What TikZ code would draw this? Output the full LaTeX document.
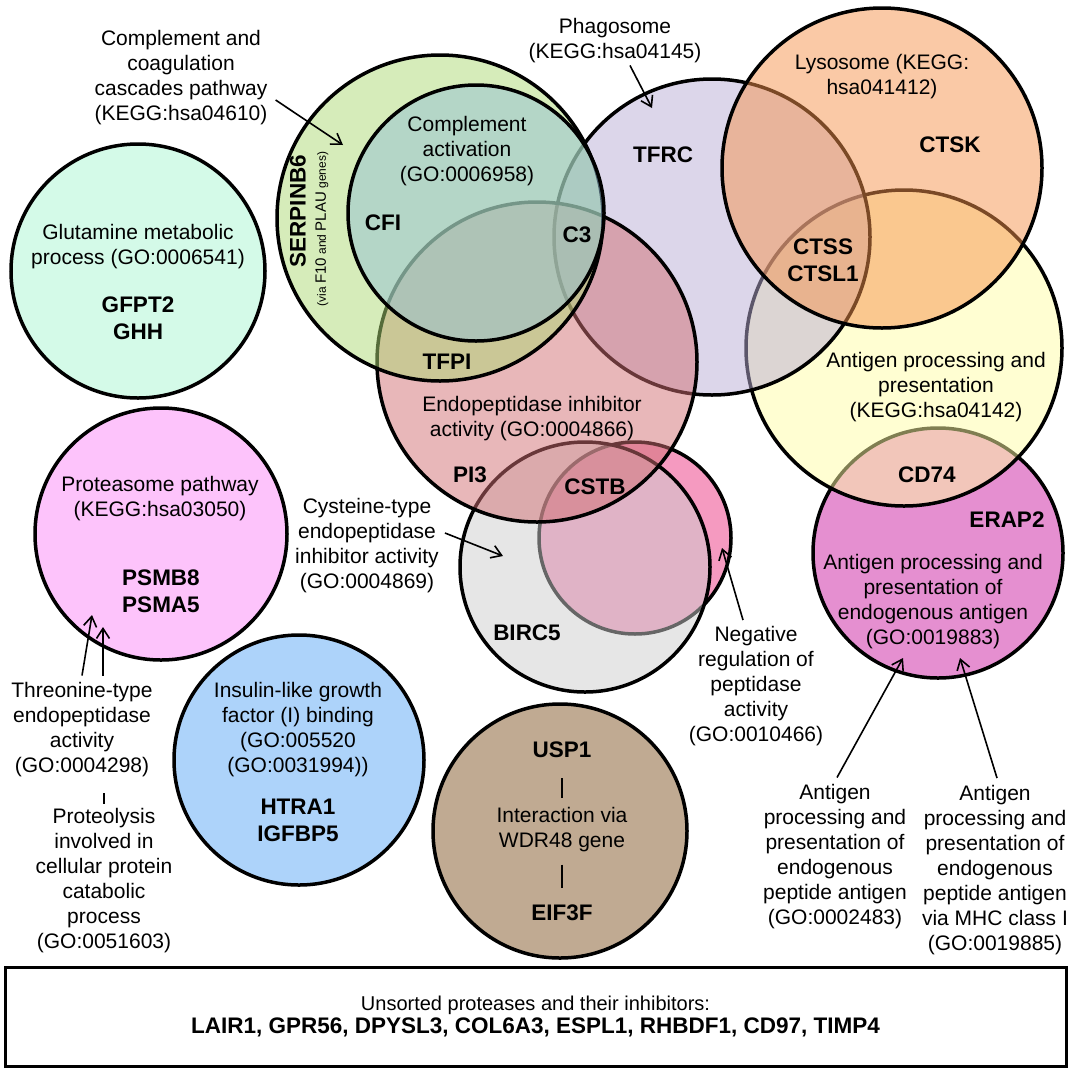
\documentclass[tikz,border=0pt]{standalone}
\usepackage{fontspec}
\setmainfont{Liberation Sans}
\usetikzlibrary{arrows.meta}

\definecolor{mint}{RGB}{212,250,232}
\definecolor{orchid}{RGB}{253,195,251}
\definecolor{sky}{RGB}{173,211,250}
\definecolor{taupe}{RGB}{192,170,146}
\definecolor{magenta}{RGB}{229,143,208}
\definecolor{butter}{RGB}{255,253,165}
\definecolor{lilac}{RGB}{185,173,213}
\definecolor{peach}{RGB}{245,147,77}
\definecolor{rose}{RGB}{245,154,192}
\definecolor{ash}{RGB}{205,205,205}
\definecolor{brick}{RGB}{209,111,115}
\definecolor{lime}{RGB}{173,217,117}
\definecolor{teal}{RGB}{148,192,214}

\tikzset{
  lbl/.style={font=\fontsize{21}{25}\selectfont, align=center, inner sep=0pt},
  gene/.style={font=\fontsize{22.5}{27}\selectfont\bfseries, align=center, inner sep=0pt},
  ring/.style={line width=3.5pt},
  seethru/.style={ring, fill opacity=0.5},
  pointer/.style={-{Straight Barb[length=10pt,width=13pt]}, line width=1.6pt},
  tie/.style={line width=1.8pt},
}

\begin{document}
\begin{tikzpicture}[x=1pt,y=-1pt]
\useasboundingbox (0,0) rectangle (1071,1069);

% Stand-alone sets
\draw[ring, fill=mint] (138,271) circle[radius=127pt]; % Glutamine metabolic process
\draw[ring, fill=orchid] (161,534) circle[radius=126pt]; % Proteasome pathway
\draw[ring, fill=sky] (299,760) circle[radius=125pt]; % Insulin-like growth factor binding
\draw[ring, fill=taupe] (560,831) circle[radius=127pt]; % WDR48 interaction

% Overlapping sets, back to front
\draw[ring, fill=magenta] (938,553) circle[radius=125pt]; % Endogenous antigen
\draw[seethru, fill=butter] (904,348) circle[radius=158pt]; % Antigen processing
\draw[seethru, fill=lilac] (712,237) circle[radius=158pt]; % Phagosome
\draw[seethru, fill=peach] (882,168) circle[radius=160pt]; % Lysosome
\draw[ring, fill=rose] (635,538) circle[radius=96pt]; % Negative regulation
\draw[seethru, fill=ash] (585,567) circle[radius=125pt]; % Cysteine-type inhibitor
\draw[seethru, fill=brick] (537,362) circle[radius=160pt]; % Endopeptidase inhibitor
\draw[seethru, fill=lime] (440,218) circle[radius=163pt]; % Complement and coagulation
\draw[seethru, fill=teal] (476,213) circle[radius=128pt]; % Complement activation

% Set labels
\node[lbl] (coag) at (181,78) {Complement and\\coagulation\\cascades pathway\\(KEGG:hsa04610)};
\node[lbl] (phago) at (615,41) {Phagosome\\(KEGG:hsa04145)};
\node[lbl] (lyso) at (882,77) {Lysosome (KEGG:\\hsa041412)};
\node[lbl] (compl) at (467,151) {Complement\\activation\\(GO:0006958)};
\node[lbl] (glut) at (138,247) {Glutamine metabolic\\process (GO:0006541)};
\node[lbl] (endo) at (532,419) {Endopeptidase inhibitor\\activity (GO:0004866)};
\node[lbl] (prot) at (160,499) {Proteasome pathway\\(KEGG:hsa03050)};
\node[lbl] (cyst) at (367,546) {Cysteine-type\\endopeptidase\\inhibitor activity\\(GO:0004869)};
\node[lbl] (antig) at (936,387) {Antigen processing and\\presentation\\(KEGG:hsa04142)};
\node[lbl] (endoant) at (933,602) {Antigen processing and\\presentation of\\endogenous antigen\\(GO:0019883)};
\node[lbl] (negreg) at (756,686) {Negative\\regulation of\\peptidase\\activity\\(GO:0010466)};
\node[lbl] (thr) at (82,730) {Threonine-type\\endopeptidase\\activity\\(GO:0004298)};
\node[lbl] (proteo) at (104,881) {Proteolysis\\involved in\\cellular protein\\catabolic\\process\\(GO:0051603)};
\node[lbl] (ins) at (298,730) {Insulin-like growth\\factor (I) binding\\(GO:005520\\(GO:0031994))};
\node[lbl] (wdr) at (562,830) {Interaction via\\WDR48 gene};
\node[lbl] (peptl) at (835,857) {Antigen\\processing and\\presentation of\\endogenous\\peptide antigen\\(GO:0002483)};
\node[lbl] (peptr) at (995,870) {Antigen\\processing and\\presentation of\\endogenous\\peptide antigen\\via MHC class I\\(GO:0019885)};

% Genes
\node[gene, rotate=90] (serpin) at (298,211) {SERPINB6};
\node[rotate=90, inner sep=0pt] (via) at (322,229) {\fontsize{12}{12}\selectfont (via \fontsize{15}{15}\selectfont F10\fontsize{12}{12}\selectfont{} and \fontsize{15}{15}\selectfont PLAU\fontsize{12}{12}\selectfont{} genes)};
\node[gene] (ctsk) at (950,145) {CTSK};
\node[gene] (ctss) at (823,260) {CTSS\\CTSL1};
\node[gene] (tfrc) at (663,155) {TFRC};
\node[gene] (cfi) at (383,223) {CFI};
\node[gene] (cthree) at (577,235) {C3};
\node[gene] (tfpi) at (447,362) {TFPI};
\node[gene] (pithree) at (470,475) {PI3};
\node[gene] (cstb) at (595,487) {CSTB};
\node[gene] (birc) at (527,633) {BIRC5};
\node[gene] (gfpt) at (138,318) {GFPT2\\GHH};
\node[gene] (psmb) at (161,591) {PSMB8\\PSMA5};
\node[gene] (cdsf) at (927,475) {CD74};
\node[gene] (erap) at (1007,520) {ERAP2};
\node[gene] (htra) at (298,820) {HTRA1\\IGFBP5};
\node[gene] (usp) at (562,750) {USP1};
\node[gene] (eif) at (562,913) {EIF3F};

% Pointers into the sets
\coordinate (coagtip) at (343,145);
\coordinate (phagotip) at (652,108);
\coordinate (cysttip) at (503,556);
\coordinate (negtip) at (722,548);
\coordinate (pepltip) at (903,658);
\coordinate (peprtip) at (960,658);
\coordinate (thrtipa) at (92,615);
\coordinate (thrtipb) at (103,627);
\draw[pointer] (coag.east) ++(8,22) -- (coagtip);
\draw[pointer] (phago.south) ++(15,2) -- (phagotip);
\draw[pointer] (cyst.east) ++(6,-13) -- (cysttip);
\draw[pointer] (negreg.north) ++(-13,-6) -- (negtip);
\draw[pointer] (peptl.north) ++(2,-7) -- (pepltip);
\draw[pointer] (peptr.north) ++(2,-7) -- (peprtip);
\draw[pointer] (thr.north) ++(0,-7) -- (thrtipa);
\draw[pointer] (thr.north) ++(21,-7) -- (thrtipb);

% Small ties
\draw[tie] ([yshift=5pt]proteo.north) -- ++(0,-11);
\draw[tie] ([yshift=-20pt]usp.south) -- ([yshift=10pt]wdr.north);
\draw[tie] ([yshift=-12pt]wdr.south) -- ([yshift=17pt]eif.north);

% Unsorted box
\node[draw, line width=3pt, minimum width=1061pt, minimum height=99pt, inner sep=0pt, align=center] (unsorted) at (535.5,1016.5)
  {\fontsize{20}{25}\selectfont Unsorted proteases and their inhibitors:\\[2pt]
   \fontsize{22.5}{25}\selectfont\bfseries LAIR1, GPR56, DPYSL3, COL6A3, ESPL1, RHBDF1, CD97, TIMP4};

\end{tikzpicture}
\end{document}
